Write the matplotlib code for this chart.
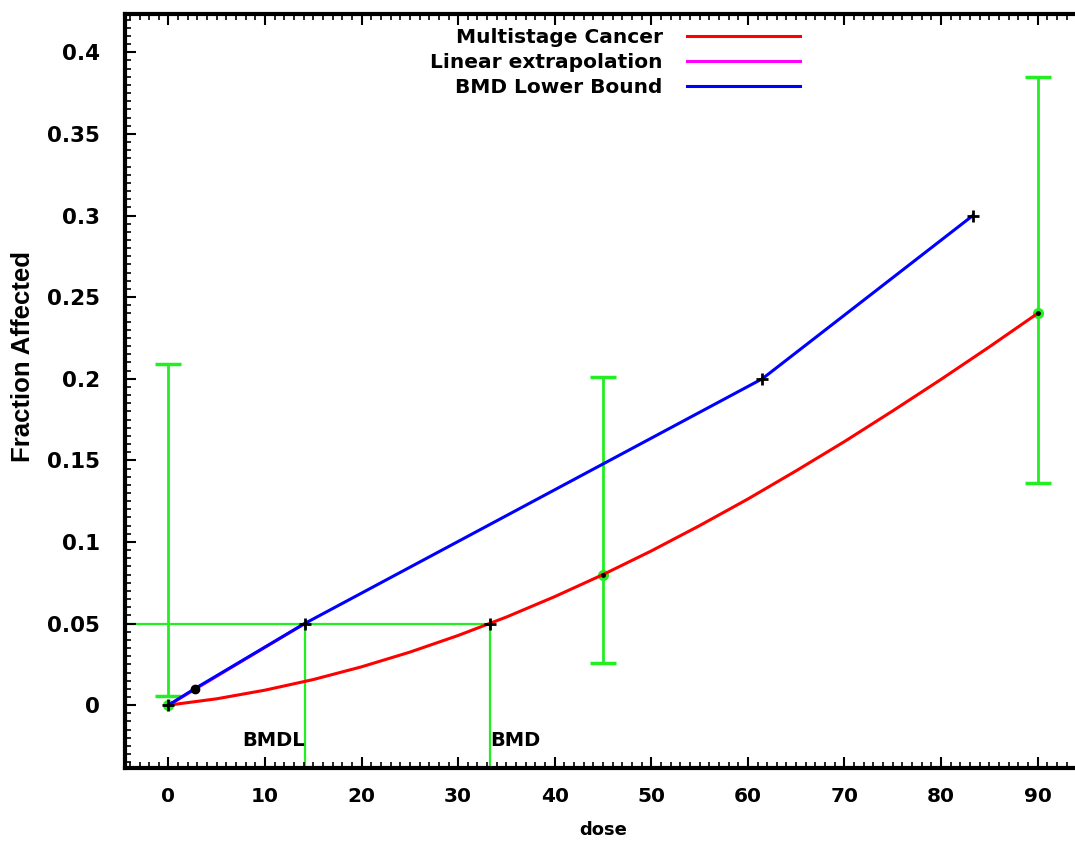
import numpy as np
import matplotlib
matplotlib.use("Agg")
import matplotlib.pyplot as plt
from matplotlib.ticker import MultipleLocator

# ── Data ──────────────────────────────────────────────────────────────────────
obs_dose  = [0, 45, 90]
obs_frac  = [0.0, 0.08, 0.24]
obs_lower = [0.0055, 0.026, 0.136]
obs_upper = [0.209, 0.201, 0.385]

model_dose = [0, 5, 10, 15, 20, 25, 30, 35, 40, 45, 50, 55, 60, 65, 70, 75, 80, 85, 90]
model_frac = [0.0, 0.0039, 0.0092, 0.0157, 0.0235, 0.0325, 0.0427, 0.0540, 0.0665,
              0.0800, 0.0945, 0.1100, 0.1263, 0.1436, 0.1615, 0.1803, 0.1996, 0.2195, 0.2400]

lower_dose = [0, 2.7, 14.1, 61.5, 83.3]
lower_frac = [0.0, 0.01, 0.05, 0.20, 0.30]

bmr  = 0.05
bmd  = 33.3
bmdl = 14.1

xlim = (-4.5, 94.6)
ylim = (-0.0385, 0.4235)

GREEN = "#22ee22"

# ── Plot ──────────────────────────────────────────────────────────────────────
fig = plt.figure(figsize=(10.75, 8.42), dpi=100)
# right frame falls just past the picture edge, as in the original
ax = fig.add_axes([0.1163, 0.0879, 0.8902, 0.8955])

# BMR / BMD / BMDL guide lines
ax.plot([xlim[0], bmd], [bmr, bmr], color=GREEN, lw=1.6, zorder=1)
ax.plot([bmdl, bmdl], [ylim[0], bmr], color=GREEN, lw=1.6, zorder=1)
ax.plot([bmd, bmd], [ylim[0], bmr], color=GREEN, lw=1.6, zorder=1)

# observed data with confidence bars (lower bound may sit above the point)
ax.vlines(obs_dose, obs_lower, obs_upper, color=GREEN, lw=2, zorder=2)
ax.plot(obs_dose, obs_lower, "_", color=GREEN, ms=19, mew=2.5, zorder=2)
ax.plot(obs_dose, obs_upper, "_", color=GREEN, ms=19, mew=2.5, zorder=2)
ax.plot(obs_dose, obs_frac, "o", color=GREEN, ms=7, zorder=2)

ax.plot(model_dose, model_frac, color="red", lw=2.2, label="Multistage Cancer", zorder=3)
ax.plot([0, bmdl], [0, bmr], color="magenta", lw=2.2, label="Linear extrapolation", zorder=3)
ax.plot(lower_dose, lower_frac, color="blue", lw=2.2, label="BMD Lower Bound", zorder=4)

# markers
ax.plot([0, bmdl, bmd, lower_dose[3], lower_dose[4]], [0, bmr, bmr, lower_frac[3], lower_frac[4]],
        "+", color="black", ms=8, mew=2, zorder=5)
ax.plot([lower_dose[1]], [lower_frac[1]], "o", color="black", ms=6, zorder=5)
ax.plot(obs_dose[1:], obs_frac[1:], "o", color="black", ms=2.5, zorder=5)

ax.text(bmdl, -0.025, "BMDL", ha="right", va="baseline", fontsize=14,
        family="DejaVu Sans", fontweight="bold")
ax.text(bmd, -0.025, "BMD", ha="left", va="baseline", fontsize=14,
        family="DejaVu Sans", fontweight="bold")

ax.set_xlim(*xlim)
ax.set_ylim(*ylim)
ax.xaxis.set_major_locator(MultipleLocator(10))
ax.xaxis.set_minor_locator(MultipleLocator(1))
ax.yaxis.set_minor_locator(MultipleLocator(0.005))
ax.set_yticks(np.arange(0, 0.401, 0.05))
ax.set_yticklabels(["0", "0.05", "0.1", "0.15", "0.2", "0.25", "0.3", "0.35", "0.4"])
ax.tick_params(which="both", direction="in", top=True, right=False)
ax.tick_params(which="major", length=8, width=1.5)
ax.tick_params(which="minor", length=4, width=1.2)
ax.tick_params(axis="y", which="major", pad=18)
ax.tick_params(axis="x", which="major", pad=14)
for lbl in ax.get_yticklabels():
    lbl.set_fontsize(15.5)
    lbl.set_fontweight("bold")
for lbl in ax.get_xticklabels():
    lbl.set_fontsize(14.5)
    lbl.set_fontweight("bold")
for sp in ax.spines.values():
    sp.set_linewidth(3)

ax.set_ylabel("Fraction Affected", family="Liberation Sans", fontweight="bold", fontsize=18.5)
ax.yaxis.set_label_coords(-0.094, 0.546)
ax.set_xlabel("dose", family="DejaVu Sans", fontweight="bold", fontsize=13)
ax.xaxis.set_label_coords(0.50, -0.07)

leg = ax.legend(loc="upper center", bbox_to_anchor=(0.512, 1.005), frameon=False,
                markerfirst=False, handlelength=5.6, fontsize=14.5,
                labelspacing=0.3, handletextpad=1.2)
for t in leg.get_texts():
    t.set_fontweight("bold")

fig.savefig("out.png", dpi=100)
